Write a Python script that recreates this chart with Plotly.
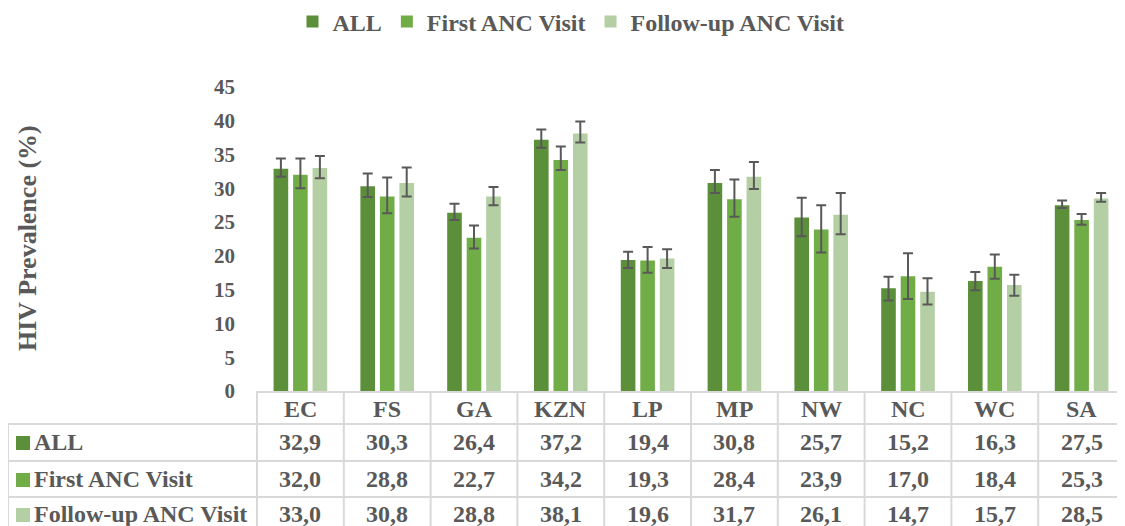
import plotly.graph_objects as go

# ---------------- data ----------------
categories = ["EC", "FS", "GA", "KZN", "LP", "MP", "NW", "NC", "WC", "SA"]
series_names = ["ALL", "First ANC Visit", "Follow-up ANC Visit"]

all_vals = [32.9, 30.3, 26.4, 37.2, 19.4, 30.8, 25.7, 15.2, 16.3, 27.5]
first_vals = [32.0, 28.8, 22.7, 34.2, 19.3, 28.4, 23.9, 17.0, 18.4, 25.3]
follow_vals = [33.0, 30.8, 28.8, 38.1, 19.6, 31.7, 26.1, 14.7, 15.7, 28.5]

# 95% CI bounds
all_lo = [31.7, 28.7, 25.3, 36.0, 18.2, 29.3, 22.9, 13.4, 14.9, 27.1]
all_hi = [34.4, 32.2, 27.7, 38.7, 20.6, 32.7, 28.6, 16.9, 17.6, 28.2]
first_lo = [30.0, 26.3, 21.1, 32.7, 17.5, 25.8, 20.5, 13.6, 16.6, 24.6]
first_hi = [34.4, 31.6, 24.5, 36.2, 21.3, 31.3, 27.5, 20.4, 20.2, 26.2]
follow_lo = [31.5, 28.8, 27.5, 36.8, 18.2, 29.9, 23.2, 12.8, 14.1, 28.0]
follow_hi = [34.8, 33.1, 30.2, 39.9, 21.0, 33.9, 29.3, 16.7, 17.2, 29.3]

y_ticks = [0, 5, 10, 15, 20, 25, 30, 35, 40, 45]

# ---------------- style ----------------
colors = ["#5B8F3A", "#70AD47", "#B4CFA4"]
text_color = "#595959"
grid_color = "#D9D9D9"
FONT = "Liberation Serif, Times New Roman, serif"

OFF = 8  # default page body margin
PAGE_W, PAGE_H = 1125, 526
W, H = PAGE_W - OFF, PAGE_H - OFF
PLOT_L, PLOT_R, PLOT_T, PLOT_B = 257, 1125, 87, 391   # in page pixels
L = PLOT_L - OFF
R = W - (PLOT_R - OFF)
T = PLOT_T - OFF
B = H - (PLOT_B - OFF)
PW, PH = PLOT_R - PLOT_L, PLOT_B - PLOT_T


def px_x(p):
    return (p - PLOT_L) / PW


def px_y(p):
    return (PLOT_B - p) / PH


series = [
    (all_vals, all_lo, all_hi),
    (first_vals, first_lo, first_hi),
    (follow_vals, follow_lo, follow_hi),
]

fig = go.Figure()
for name, color, (vals, lo, hi) in zip(series_names, colors, series):
    fig.add_trace(go.Bar(
        name=name,
        x=categories,
        y=vals,
        marker=dict(color=color, line=dict(width=0)),
        error_y=dict(
            type="data",
            symmetric=False,
            array=[h - v for h, v in zip(hi, vals)],
            arrayminus=[v - l for v, l in zip(vals, lo)],
            color=text_color,
            thickness=2,
            width=5,
        ),
    ))

shapes = []
# table horizontal lines
row_lines = [424, 461, 497]
for yy in row_lines:
    shapes.append(dict(type="line", xref="paper", yref="paper",
                       x0=px_x(8), x1=1.0, y0=px_y(yy), y1=px_y(yy),
                       line=dict(color=grid_color, width=2)))
# left border of row-label column
shapes.append(dict(type="line", xref="paper", yref="paper",
                   x0=px_x(8), x1=px_x(8), y0=px_y(424), y1=px_y(PAGE_H + 5),
                   line=dict(color=grid_color, width=2)))
# category column borders
n = len(categories)
for i in range(n + 1):
    xx = i / n
    shapes.append(dict(type="line", xref="paper", yref="paper",
                       x0=xx, x1=xx, y0=0, y1=px_y(PAGE_H + 5),
                       line=dict(color=grid_color, width=2)))

TABLE_FONT = dict(family=FONT, size=24, color=text_color, weight="bold")
row_centers = [442, 479, 514]
annotations = []
# header row: category names
for c in categories:
    annotations.append(dict(x=c, xref="x", y=px_y(409), yref="paper",
                            text=c, showarrow=False, xanchor="center", yanchor="middle",
                            font=TABLE_FONT))
# table rows
for name, color, (vals, _, _), yc in zip(series_names, colors, series, row_centers):
    shapes.append(dict(type="rect", xref="paper", yref="paper",
                       x0=px_x(16), x1=px_x(30), y0=px_y(yc + 1 - 7), y1=px_y(yc + 1 + 7),
                       fillcolor=color, line=dict(width=0)))
    annotations.append(dict(x=px_x(32), xref="paper", y=px_y(yc), yref="paper",
                            text=name, showarrow=False, xanchor="left", yanchor="middle",
                            font=TABLE_FONT))
    for c, v in zip(categories, vals):
        annotations.append(dict(x=c, xref="x", y=px_y(yc), yref="paper",
                                text=f"{v:.1f}".replace(".", ","), showarrow=False,
                                xanchor="center", yanchor="middle",
                                font=TABLE_FONT))

# y-axis title
annotations.append(dict(x=px_x(27), xref="paper", y=px_y(238), yref="paper",
                        text="HIV Prevalence (%)", textangle=-90, showarrow=False,
                        xanchor="center", yanchor="middle",
                        font=dict(family=FONT, size=26, color=text_color, weight="bold")))

fig.update_layout(
    width=W, height=H,
    margin=dict(l=L, r=R, t=T, b=B, autoexpand=False),
    paper_bgcolor="white", plot_bgcolor="white",
    barmode="group", bargap=0.326, bargroupgap=0.25,
    font=dict(family=FONT, color=text_color),
    showlegend=True,
    legend=dict(orientation="h", x=px_x(571), xanchor="center",
                y=px_y(22), yanchor="middle",
                font=dict(family=FONT, size=24, color=text_color, weight="bold"),
                itemclick=False, traceorder="normal"),
    xaxis=dict(showticklabels=False, ticks="", showgrid=False, zeroline=False,
               showline=True, linecolor=grid_color, linewidth=2,
               range=[-0.5, n - 0.5], fixedrange=True),
    yaxis=dict(range=[0, 45], tickvals=y_ticks, ticks="", showgrid=False,
               zeroline=False, showline=False, ticklabelstandoff=21,
               tickfont=dict(family=FONT, size=21, color=text_color, weight="bold"),
               fixedrange=True),
    shapes=shapes,
    annotations=annotations,
)

fig.write_html("out.html")
